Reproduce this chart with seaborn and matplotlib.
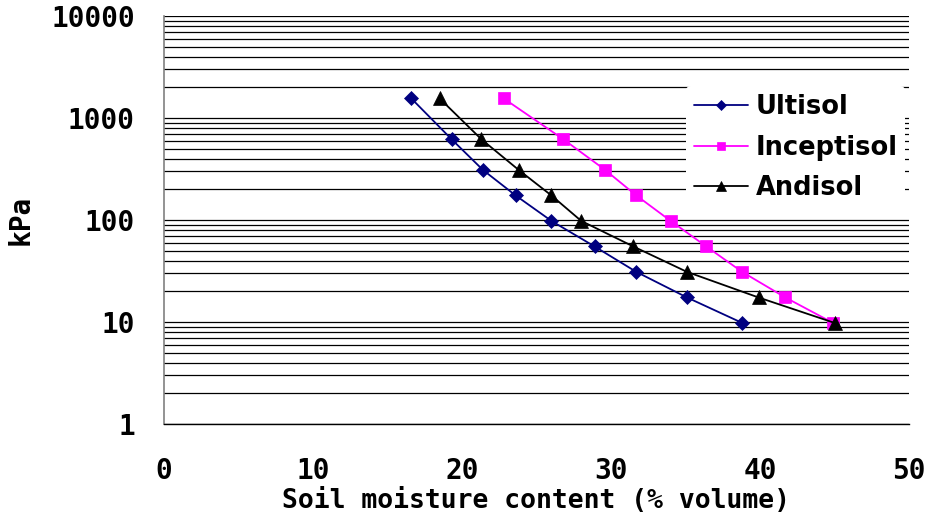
import numpy as np
import pandas as pd
import matplotlib
matplotlib.use("Agg")
import matplotlib.pyplot as plt
from matplotlib.ticker import LogLocator, FixedLocator, FuncFormatter, NullFormatter
import seaborn as sns

# Water retention data: suction (kPa) vs. volumetric moisture content (%)
suction_kpa = [1554, 619, 310, 174, 98, 55, 31, 17.4, 9.8]
ultisol_moisture = [16.6, 19.3, 21.4, 23.6, 26.0, 28.9, 31.7, 35.1, 38.8]
inceptisol_moisture = [22.8, 26.8, 29.6, 31.7, 34.0, 36.4, 38.8, 41.7, 44.9]
andisol_moisture = [18.5, 21.3, 23.8, 26.0, 28.0, 31.5, 35.1, 39.9, 45.0]

soil_names = ["Ultisol", "Inceptisol", "Andisol"]
x_ticks = [0, 10, 20, 30, 40, 50]
y_ticks = [1, 10, 100, 1000, 10000]

df = pd.concat([
    pd.DataFrame({"soil": name, "moisture": xs, "kpa": suction_kpa})
    for name, xs in zip(soil_names, [ultisol_moisture, inceptisol_moisture, andisol_moisture])
], ignore_index=True)

sns.set_style("white")
plt.rcParams["font.family"] = ["DejaVu Sans Mono", "DejaVu Sans"]
plt.rcParams["font.weight"] = "bold"
plt.rcParams["text.color"] = "black"
plt.rcParams["axes.labelcolor"] = "black"

fig = plt.figure(figsize=(9.27, 5.22), dpi=100)
ax = fig.add_axes([164 / 927, 1 - 424 / 522, (909 - 164) / 927, (424 - 16) / 522])

styles = {
    "Ultisol": dict(color="#000080", marker="D", ms=6.8),
    "Inceptisol": dict(color="#FF00FF", marker="s", ms=8.0),
    "Andisol": dict(color="#000000", marker="^", ms=9.5),
}

for name in soil_names:
    st = styles[name]
    sns.lineplot(data=df[df["soil"] == name], x="moisture", y="kpa", ax=ax,
                 sort=False, estimator=None, color=st["color"], marker=st["marker"],
                 markersize=st["ms"], markeredgecolor=st["color"], markeredgewidth=0.5,
                 linewidth=1.3, label=name, zorder=3)

ax.set_yscale("log")
ax.set_xlim(0, 50)
ax.set_ylim(1, 10000)

ax.xaxis.set_major_locator(FixedLocator(x_ticks))
ax.yaxis.set_major_locator(FixedLocator(y_ticks))
ax.yaxis.set_major_formatter(FuncFormatter(lambda v, p: f"{v:g}"))
ax.yaxis.set_minor_locator(LogLocator(base=10, subs=np.arange(2, 10), numticks=20))
ax.yaxis.set_minor_formatter(NullFormatter())

ax.grid(False)
ax.yaxis.grid(True, which="both", color="black", linewidth=0.9)
ax.set_axisbelow(True)

for side in ["top", "right"]:
    ax.spines[side].set_visible(False)
ax.spines["left"].set_color("#808080")
ax.spines["left"].set_linewidth(1.2)
ax.spines["bottom"].set_color("black")
ax.spines["bottom"].set_linewidth(1.0)

ax.tick_params(axis="x", direction="inout", length=20, width=0.9, color="#404040",
               labelcolor="black", pad=14, labelsize=20)
ax.tick_params(axis="y", which="major", direction="out", length=8, width=0.9,
               color="#404040", labelcolor="black", pad=13, labelsize=20)
ax.tick_params(axis="y", which="minor", length=0)

ax.set_xlabel("Soil moisture content (% volume)", fontsize=19, fontweight="bold", labelpad=2)
ax.set_ylabel("kPa", fontsize=20, fontweight="bold", labelpad=12)

leg = ax.legend(loc="upper right", bbox_to_anchor=(1.012, 0.86), frameon=True,
                prop={"family": "DejaVu Sans", "weight": "bold", "size": 18.5},
                handlelength=2.1, handletextpad=0.3, labelspacing=0.58,
                borderpad=0.3, markerscale=0.75)
leg.get_frame().set_edgecolor("none")
leg.get_frame().set_facecolor("white")
leg.get_frame().set_alpha(1.0)

fig.savefig("out.png", dpi=100)
